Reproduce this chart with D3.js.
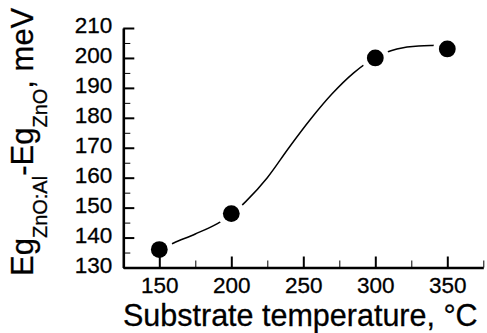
<!DOCTYPE html>
<html>
<head>
<meta charset="utf-8">
<script src="https://cdn.jsdelivr.net/npm/d3@7"></script>
<style>
  html, body { margin: 0; padding: 0; background: #fff; }
  svg { display: block; font-family: "Liberation Sans", Arial, sans-serif; }
</style>
</head>
<body>
<svg id="chart" width="487" height="333"></svg>
<script>
// Measured band-gap shift vs substrate temperature
const temps = [150, 200, 300, 350];
const shifts = [136, 148, 200, 203];

// Sigmoidal trend line through the measurements (sampled points)
const fitTemps = [150, 160, 175, 190, 200, 210, 225, 240, 255, 270, 285, 300, 315, 330, 350];
const fitShifts = [136, 138.2, 141.2, 144.6, 147.6, 152, 160, 170, 179.5, 188, 195, 200.2, 203, 204, 204.2];

// Axis ticks
const xTicks = [150, 200, 250, 300, 350];
const xMinor = [175, 225, 275, 325, 375];
const yTicks = [130, 140, 150, 160, 170, 180, 190, 200, 210];
const yMinor = [135, 145, 155, 165, 175, 185, 195, 205];

const svg = d3.select("#chart");

const x = d3.scaleLinear().domain([125, 375]).range([123.3, 483.3]);
const y = d3.scaleLinear().domain([130, 210]).range([267.5, 28]);

// Mask that opens a small gap in the trend line around each marker
const defs = svg.append("defs");
const mask = defs.append("mask").attr("id", "gaps").attr("maskUnits", "userSpaceOnUse")
  .attr("x", 0).attr("y", 0).attr("width", 487).attr("height", 333);
mask.append("rect").attr("width", 487).attr("height", 333).attr("fill", "#fff");
mask.selectAll("circle").data(temps).join("circle")
  .attr("cx", d => x(d)).attr("cy", (d, i) => y(shifts[i])).attr("r", 14).attr("fill", "#000");

// Trend line
const line = d3.line()
  .x(d => x(d[0])).y(d => y(d[1]))
  .curve(d3.curveMonotoneX);
svg.append("path")
  .datum(fitTemps.map((t, i) => [t, fitShifts[i]]))
  .attr("d", line)
  .attr("fill", "none").attr("stroke", "#000").attr("stroke-width", 1.5)
  .attr("mask", "url(#gaps)");

// X axis (ticks point inward)
const xAxis = svg.append("g").attr("transform", `translate(0,${y(130)})`)
  .call(d3.axisBottom(x).tickValues(xTicks).tickSizeInner(-11).tickSizeOuter(0).tickPadding(10));
svg.append("g").attr("transform", `translate(0,${y(130)})`)
  .call(d3.axisBottom(x).tickValues(xMinor).tickSizeInner(-7).tickSizeOuter(0).tickFormat(""))
  .select(".domain").remove();
xAxis.select(".domain").attr("stroke-width", 2.6);
xAxis.selectAll(".tick line").attr("stroke-width", 2);
xAxis.selectAll("text").attr("font-size", 22.5).attr("fill", "#000")
  .attr("stroke", "#000").attr("stroke-width", 0.3)
  .attr("font-family", "Liberation Sans, Arial, sans-serif");

// Y axis (ticks point inward)
const yAxis = svg.append("g").attr("transform", `translate(${x(125)},0)`)
  .call(d3.axisLeft(y).tickValues(yTicks).tickSizeInner(-11).tickSizeOuter(0).tickPadding(11));
svg.append("g").attr("transform", `translate(${x(125)},0)`)
  .call(d3.axisLeft(y).tickValues(yMinor).tickSizeInner(-7).tickSizeOuter(0).tickFormat(""))
  .select(".domain").remove();
yAxis.select(".domain").attr("stroke-width", 2.6);
yAxis.selectAll(".tick line").attr("stroke-width", 2);
yAxis.selectAll("text").attr("font-size", 22.5).attr("fill", "#000").attr("dy", "0.22em")
  .attr("stroke", "#000").attr("stroke-width", 0.3)
  .attr("font-family", "Liberation Sans, Arial, sans-serif");
svg.selectAll(".tick line").attr("stroke", "#000");
svg.selectAll(".domain").attr("stroke", "#000");

// Markers
svg.append("g").selectAll("circle").data(temps).join("circle")
  .attr("cx", d => x(d)).attr("cy", (d, i) => y(shifts[i])).attr("r", 8.4).attr("fill", "#000");

// X axis title
svg.append("text")
  .attr("x", 123).attr("y", 326)
  .attr("font-size", 30.5).attr("fill", "#000")
  .attr("stroke", "#000").attr("stroke-width", 0.3)
  .text("Substrate temperature, \u00B0C");

// Y axis title with subscripts
const yt = svg.append("text")
  .attr("transform", "translate(33,276) rotate(-90)")
  .attr("font-size", 31).attr("fill", "#000")
  .attr("stroke", "#000").attr("stroke-width", 0.3);
yt.append("tspan").text("Eg");
yt.append("tspan").attr("font-size", 20).attr("dy", 14).text("ZnO:Al");
yt.append("tspan").attr("dy", -14).text("-Eg");
yt.append("tspan").attr("font-size", 20).attr("dy", 14).text("ZnO");
yt.append("tspan").attr("dy", -14).text(", meV");
</script>
</body>
</html>
